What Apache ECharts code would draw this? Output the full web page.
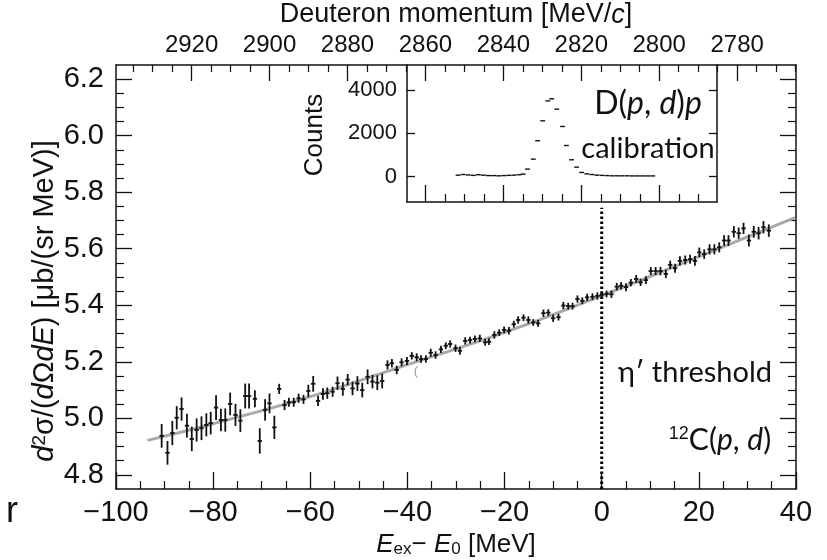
<!DOCTYPE html>
<html>
<head>
<meta charset="utf-8">
<script src="https://cdn.jsdelivr.net/npm/echarts@6/dist/echarts.min.js"></script>
<style>
  html, body { margin: 0; padding: 0; background: #fff; }
  #chart { width: 827px; height: 560px; }
</style>
</head>
<body>
<div id="chart"></div>
<script>
  // 12C(p,d) spectrum
  const energy = [
    -90.6,-89.4,-88.4,-87.5,-86.5,-85.4,-84.4,-83.4,-82.4,-81.4,-80.5,-79.4,-78.4,-77.5,-76.5,-75.4,-74.4,-73.4,-72.6,-71.4,
    -70.4,-69.3,-68.4,-67.4,-66.4,-65.3,-64.4,-63.4,-62.4,-61.4,-60.4,-59.4,-58.4,-57.4,-56.5,-55.4,-54.4,-53.3,-52.3,-51.3,
    -50.3,-49.3,-48.2,-47.2,-46.2,-45.2,-44.1,-43.2,-42.2,-41.2,-40.1,-39.1,-38.1,-37.2,-36.2,-35.2,-34.2,-33.1,-32.1,-31.2,
    -30.1,-29.2,-28.1,-27.1,-26.1,-25.1,-24.0,-23.2,-22.1,-21.1,-20.1,-19.1,-18.1,-17.2,-16.1,-15.1,-14.1,-13.1,-12.0,-11.0,
    -10.0,-8.9,-7.9,-6.9,-6.0,-5.0,-4.0,-3.0,-1.9,-0.9,0.0,1.0,2.0,3.1,4.0,5.0,6.0,7.1,8.0,9.1,
    10.1,11.1,12.1,13.2,14.1,15.1,16.1,17.2,18.2,19.2,20.1,21.1,22.2,23.2,24.2,25.2,26.1,27.2,28.2,29.2,
    30.3,31.3,32.3,33.3,34.4
  ]
  const xsec = [
    4.938,4.878,4.948,5.002,5.033,4.974,4.927,4.959,4.965,4.977,4.983,5.038,4.994,4.994,5.051,5.012,4.992,5.079,5.079,5.069,
    4.920,5.030,5.053,4.968,5.104,5.047,5.057,5.057,5.071,5.067,5.097,5.122,5.062,5.086,5.089,5.094,5.124,5.104,5.137,5.106,
    5.123,5.100,5.147,5.130,5.126,5.132,5.189,5.195,5.171,5.198,5.203,5.221,5.216,5.210,5.210,5.232,5.224,5.244,5.257,5.263,
    5.248,5.239,5.274,5.277,5.281,5.283,5.269,5.271,5.295,5.303,5.313,5.310,5.333,5.348,5.356,5.348,5.339,5.336,5.372,5.374,
    5.354,5.358,5.399,5.397,5.397,5.422,5.416,5.428,5.430,5.433,5.437,5.440,5.439,5.466,5.469,5.464,5.480,5.493,5.481,5.489,
    5.521,5.521,5.521,5.511,5.543,5.531,5.557,5.560,5.563,5.557,5.587,5.581,5.598,5.598,5.605,5.629,5.629,5.660,5.655,5.672,
    5.629,5.660,5.655,5.676,5.664
  ]
  const xsecErr = [
    0.042,0.042,0.043,0.041,0.041,0.042,0.043,0.041,0.042,0.041,0.040,0.044,0.040,0.041,0.040,0.039,0.040,0.044,0.044,0.030,
    0.045,0.038,0.035,0.041,0.018,0.018,0.016,0.016,0.016,0.016,0.022,0.028,0.018,0.020,0.020,0.018,0.024,0.024,0.020,0.024,
    0.026,0.026,0.026,0.024,0.026,0.026,0.016,0.015,0.015,0.014,0.014,0.013,0.014,0.013,0.013,0.014,0.013,0.013,0.012,0.013,
    0.013,0.014,0.013,0.012,0.012,0.013,0.012,0.012,0.013,0.012,0.012,0.013,0.012,0.013,0.012,0.013,0.012,0.012,0.013,0.012,
    0.013,0.012,0.013,0.012,0.012,0.013,0.012,0.013,0.012,0.013,0.013,0.012,0.013,0.013,0.013,0.014,0.013,0.014,0.013,0.014,
    0.014,0.014,0.015,0.015,0.015,0.016,0.016,0.016,0.016,0.017,0.017,0.017,0.018,0.018,0.018,0.019,0.019,0.020,0.020,0.020,
    0.021,0.021,0.022,0.022,0.022
  ]

  // smooth background fit (grey curve)
  const fitX = [-93.5, -80, -60, -40, -20, 0, 20, 39.8]
  const fitY = [4.922, 4.981, 5.077, 5.190, 5.304, 5.434, 5.572, 5.710]

  // inset: D(p,d)p calibration peak
  const calMomentum = [
    2851.6,2850.3,2849.0,2847.7,2846.4,2845.1,2843.8,2842.5,2841.2,2839.9,2838.6,2837.3,2836.0,
    2834.9,2833.8,2832.3,2831.2,2829.9,2828.6,2827.6,2826.3,2824.8,2823.8,2822.5,2821.2,2819.9,
    2818.6,2817.3,2816.0,2814.7,2813.4,2812.1,2810.8,2809.5,2808.2,2806.9,2805.6,2804.3,2803.0,2801.7
  ]
  const calCounts = [
    60,90,70,50,80,60,40,40,30,40,50,60,80,
    110,340,800,1650,2570,3490,3590,3110,2310,1430,770,430,185,
    120,90,60,50,40,30,30,30,30,25,25,25,25,25
  ]

  const yMajor = [4.8, 5.0, 5.2, 5.4, 5.6, 5.8, 6.0, 6.2]
  const yMinor = [4.85,4.9,4.95,5.05,5.1,5.15,5.25,5.3,5.35,5.45,5.5,5.55,5.65,5.7,5.75,5.85,5.9,5.95,6.05,6.1,6.15]
  const pMajor = [2780, 2800, 2820, 2840, 2860, 2880, 2900, 2920]
  const pMinor = [2765,2770,2775,2785,2790,2795,2805,2810,2815,2825,2830,2835,2845,2850,2855,2865,2870,2875,2885,2890,2895,2905,2910,2915,2925,2930,2935]
  const insetPMajor = [2800, 2820, 2840, 2860]
  const insetPMinor = [2790,2795,2805,2810,2815,2825,2830,2835,2845,2850,2855]
  const countTicks = [0, 2000, 4000]

  const chart = echarts.init(document.getElementById('chart'))

  const FONT = "'Liberation Sans', Arial, sans-serif"
  const GILL = "Lato, 'Open Sans', sans-serif"
  const INK = '#111'

  const crossItem = (params, api) => {
    const x = api.value(0), y = api.value(1), e = api.value(2)
    const a = api.coord([x, y + e]), b = api.coord([x, y - e])
    const l = api.coord([x - 0.45, y]), r = api.coord([x + 0.45, y])
    return {
      type: 'group',
      children: [
        {type: 'line', shape: {x1: a[0], y1: a[1], x2: b[0], y2: b[1]}, style: {stroke: INK, lineWidth: 1.8}},
        {type: 'line', shape: {x1: l[0], y1: l[1], x2: r[0], y2: r[1]}, style: {stroke: INK, lineWidth: 1.8}}
      ]
    }
  }
  const dashItem = (params, api) => {
    const x = api.value(0), y = api.value(1)
    const l = api.coord([x + 0.62, y]), r = api.coord([x - 0.62, y])
    return {type: 'line', shape: {x1: l[0], y1: l[1], x2: r[0], y2: r[1]}, style: {stroke: INK, lineWidth: 1.4}}
  }

  const frameLine = {show: true, onZero: false, lineStyle: {color: INK, width: 1.5}}
  const noLine = {show: false, onZero: false}
  const plain = v => String(v)

  let option = {
    animation: false,
    backgroundColor: '#fff',
    grid: [
      {left: 116, right: 31, top: 65, bottom: 71},
      {left: 407, right: 110, top: 65, bottom: 358}
    ],
    xAxis: [
      {
        gridIndex: 0, type: 'value', position: 'bottom', min: -100, max: 40, interval: 20,
        axisLine: frameLine,
        axisTick: {inside: true, length: 17, lineStyle: {color: INK, width: 1.3}},
        minorTick: {show: true, splitNumber: 4, length: 8, lineStyle: {color: INK, width: 1.2}},
        axisLabel: {fontFamily: FONT, fontSize: 29, color: INK, margin: 9,
          formatter: v => String(v).replace('-', '\u2212')},
        splitLine: {show: false}
      },
      {
        gridIndex: 0, type: 'value', position: 'top', min: 2764.9, max: 2939.4, inverse: true,
        axisLine: frameLine,
        axisTick: {inside: true, length: 16, customValues: pMajor, lineStyle: {color: INK, width: 1.3}},
        axisLabel: {fontFamily: FONT, fontSize: 24, color: INK, margin: 8, customValues: pMajor, formatter: plain},
        splitLine: {show: false}
      },
      {
        gridIndex: 0, type: 'value', position: 'top', min: 2764.9, max: 2939.4, inverse: true,
        axisLine: noLine,
        axisTick: {inside: true, length: 7, customValues: pMinor, lineStyle: {color: INK, width: 1.2}},
        axisLabel: {show: false},
        splitLine: {show: false}
      },
      {
        gridIndex: 1, type: 'value', position: 'bottom', min: 2785.2, max: 2864.7, inverse: true,
        axisLine: frameLine,
        axisTick: {inside: true, length: 17, customValues: insetPMajor, lineStyle: {color: INK, width: 1.3}},
        axisLabel: {show: false},
        splitLine: {show: false}
      },
      {
        gridIndex: 1, type: 'value', position: 'bottom', min: 2785.2, max: 2864.7, inverse: true,
        axisLine: noLine,
        axisTick: {inside: true, length: 8, customValues: insetPMinor, lineStyle: {color: INK, width: 1.2}},
        axisLabel: {show: false},
        splitLine: {show: false}
      }
    ],
    yAxis: [
      {
        gridIndex: 0, type: 'value', position: 'left', min: 4.75, max: 6.25,
        axisLine: frameLine,
        axisTick: {inside: true, length: 16, customValues: yMajor, lineStyle: {color: INK, width: 1.3}},
        axisLabel: {fontFamily: FONT, fontSize: 29, color: INK, margin: 12, customValues: yMajor,
          formatter: v => v.toFixed(1)},
        splitLine: {show: false}
      },
      {
        gridIndex: 0, type: 'value', position: 'left', min: 4.75, max: 6.25,
        axisLine: noLine,
        axisTick: {inside: true, length: 8, customValues: yMinor, lineStyle: {color: INK, width: 1.2}},
        axisLabel: {show: false},
        splitLine: {show: false}
      },
      {
        gridIndex: 0, type: 'value', position: 'right', min: 4.75, max: 6.25,
        axisLine: frameLine,
        axisTick: {inside: true, length: 16, customValues: yMajor, lineStyle: {color: INK, width: 1.3}},
        axisLabel: {show: false},
        splitLine: {show: false}
      },
      {
        gridIndex: 0, type: 'value', position: 'right', min: 4.75, max: 6.25,
        axisLine: noLine,
        axisTick: {inside: true, length: 8, customValues: yMinor, lineStyle: {color: INK, width: 1.2}},
        axisLabel: {show: false},
        splitLine: {show: false}
      },
      {
        gridIndex: 1, type: 'value', position: 'left', min: -1180, max: 5150,
        axisLine: frameLine,
        axisTick: {inside: true, length: 8, customValues: countTicks, lineStyle: {color: INK, width: 1.3}},
        axisLabel: {fontFamily: FONT, fontSize: 22, color: INK, margin: 10, customValues: countTicks, formatter: plain},
        splitLine: {show: false}
      },
      {
        gridIndex: 1, type: 'value', position: 'right', min: -1180, max: 5150,
        axisLine: frameLine,
        axisTick: {inside: true, length: 8, customValues: countTicks, lineStyle: {color: INK, width: 1.3}},
        axisLabel: {show: false},
        splitLine: {show: false}
      }
    ],
    series: [
      {
        name: 'fit', type: 'line', xAxisIndex: 0, yAxisIndex: 0, smooth: true, showSymbol: false, z: 1,
        lineStyle: {color: '#a9a9a9', width: 3},
        data: fitX.map((x, i) => [x, fitY[i]])
      },
      {
        name: 'threshold', type: 'line', xAxisIndex: 0, yAxisIndex: 0, showSymbol: false, z: 2,
        lineStyle: {color: '#000', width: 3, type: [2.5, 2.5]},
        data: [[0, 4.75], [0, 5.745]]
      },
      {
        name: '12C(p,d)', type: 'custom', xAxisIndex: 0, yAxisIndex: 0, z: 3,
        renderItem: crossItem,
        encode: {x: 0, y: 1},
        data: energy.map((x, i) => [x, xsec[i], xsecErr[i]])
      },
      {
        name: 'D(p,d)p', type: 'custom', xAxisIndex: 3, yAxisIndex: 4, z: 3,
        renderItem: dashItem,
        encode: {x: 0, y: 1},
        data: calMomentum.map((x, i) => [x, calCounts[i]])
      }
    ],
    graphic: [
      {
        type: 'text', x: 456, y: 15,
        style: {
          text: 'Deuteron momentum [MeV/{i|c}]', align: 'center', verticalAlign: 'middle',
          font: '27px ' + FONT, fill: INK,
          rich: {i: {fontStyle: 'italic', fontSize: 27, fontFamily: FONT}}
        }
      },
      {
        type: 'text', x: 456, y: 545,
        style: {
          text: '{i|E}{sub|ex}\u2212 {i|E}{sub|0} [MeV]', align: 'center', verticalAlign: 'middle',
          font: '26px ' + FONT, fill: INK,
          rich: {
            i: {fontStyle: 'italic', fontSize: 26, fontFamily: FONT},
            sub: {fontSize: 17, fontFamily: FONT, verticalAlign: 'bottom', padding: [8, 0, 0, 0]}
          }
        }
      },
      {
        type: 'text', x: 45, y: 301, rotation: Math.PI / 2,
        style: {
          text: '{i|d}{sup|2}\u03c3/({i|d}\u03a9{i|dE}) [\u03bcb/(sr MeV)]', align: 'center', verticalAlign: 'middle',
          font: '29px ' + FONT, fill: INK,
          rich: {
            i: {fontStyle: 'italic', fontSize: 29, fontFamily: FONT},
            sup: {fontSize: 19, fontFamily: FONT, verticalAlign: 'top', padding: [0, 0, 11, 0]}
          }
        }
      },
      {
        type: 'text', x: 315, y: 135, rotation: Math.PI / 2,
        style: {text: 'Counts', align: 'center', verticalAlign: 'middle', font: '26px ' + FONT, fill: INK}
      },
      {
        type: 'text', x: 648, y: 104,
        style: {
          text: 'D({i|p}, {i|d}){i|p}', align: 'center', verticalAlign: 'middle', font: '32px ' + GILL, fill: INK,
          rich: {i: {fontStyle: 'italic', fontSize: 32, fontFamily: GILL}}
        }
      },
      {
        type: 'text', x: 648, y: 149,
        style: {text: 'calibration', align: 'center', verticalAlign: 'middle', font: '29px ' + GILL, fill: INK}
      },
      {
        type: 'text', x: 695, y: 373,
        style: {text: '\u03b7\u2032 threshold', align: 'center', verticalAlign: 'middle', font: '29px ' + GILL, fill: INK}
      },
      {
        type: 'text', x: 720, y: 440,
        style: {
          text: '{sup|12}C({i|p}, {i|d})', align: 'center', verticalAlign: 'middle', font: '30px ' + GILL, fill: INK,
          rich: {
            i: {fontStyle: 'italic', fontSize: 30, fontFamily: GILL},
            sup: {fontSize: 18, fontFamily: FONT, verticalAlign: 'top', padding: [0, 0, 12, 0]}
          }
        }
      },
      {
        type: 'text', x: 416, y: 371,
        style: {text: '(', align: 'center', verticalAlign: 'middle', font: '13px ' + FONT, fill: '#999'}
      },
      {
        type: 'text', x: 12, y: 512,
        style: {text: 'r', align: 'center', verticalAlign: 'middle', font: '36px ' + FONT, fill: INK}
      }
    ]
  }

  chart.setOption(option)
</script>
</body>
</html>
